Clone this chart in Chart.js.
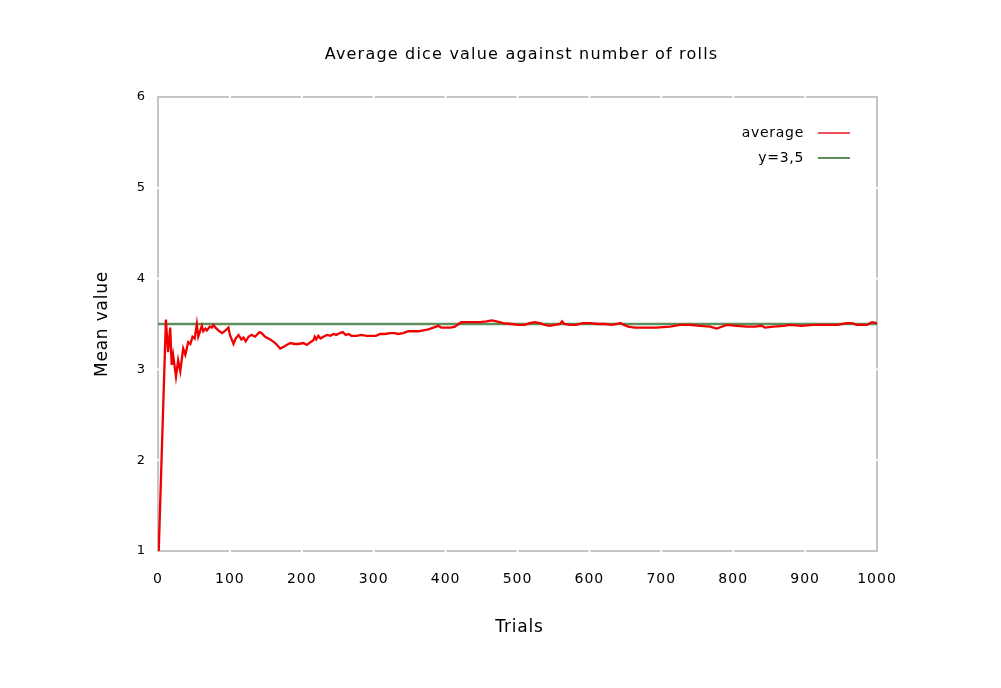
<!DOCTYPE html>
<html><head><meta charset="utf-8">
<script src="https://cdn.jsdelivr.net/npm/chart.js@4/dist/chart.umd.min.js"></script>
<style>html,body{margin:0;padding:0;background:#fff}#wrap{width:1001px;height:688px}</style>
</head><body><div id="wrap"><canvas id="c" width="1001" height="688"></canvas></div>
<script>
// ---- data ----
const chartTitle = "Average dice value against number of rolls";
const xAxisTitle = "Trials";
const yAxisTitle = "Mean value";
const seriesNames = ["average", "y=3,5"];
const trials = [1,11,14,17,19,21,25,28,31,35,38,42,45,48,51,54,56,61,63,66,68,72,75,77,80,84,89,94,98,100,
  105,108,112,116,119,122,126,130,135,141,144,149,156,163,170,175,179,184,190,195,202,207,212,216,218,220,223,226,230,
  235,240,244,248,253,257,261,265,269,276,283,290,297,303,309,316,323,329,334,341,348,355,362,369,376,383,390,394,401,
  407,413,418,422,431,441,448,457,464,471,480,492,501,510,517,524,531,538,545,552,559,562,565,573,581,591,601,612,622,
  631,638,643,648,654,663,679,693,712,726,740,754,768,777,784,791,805,819,830,840,844,856,870,879,895,911,930,945,958,
  965,972,986,993,1000];
const averages = [1.00,3.55,3.19,3.46,3.05,3.16,2.92,3.10,2.98,3.23,3.16,3.30,3.28,3.36,3.34,3.50,3.36,3.48,3.42,3.45,
  3.43,3.47,3.46,3.49,3.46,3.43,3.40,3.43,3.46,3.38,3.28,3.34,3.38,3.33,3.35,3.31,3.36,3.38,3.36,3.41,3.40,3.36,3.33,
  3.29,3.23,3.25,3.27,3.29,3.28,3.28,3.29,3.27,3.30,3.32,3.36,3.33,3.37,3.34,3.36,3.38,3.37,3.39,3.38,3.40,3.41,3.38,
  3.39,3.37,3.37,3.38,3.37,3.37,3.37,3.39,3.39,3.40,3.40,3.39,3.40,3.42,3.42,3.42,3.43,3.44,3.46,3.48,3.46,3.46,3.46,
  3.47,3.50,3.52,3.52,3.52,3.52,3.53,3.54,3.53,3.51,3.50,3.49,3.49,3.51,3.52,3.51,3.49,3.48,3.49,3.50,3.53,3.50,3.49,
  3.49,3.51,3.51,3.50,3.50,3.49,3.50,3.51,3.49,3.47,3.46,3.46,3.46,3.47,3.49,3.49,3.48,3.47,3.45,3.47,3.49,3.48,3.47,
  3.47,3.48,3.46,3.47,3.48,3.49,3.48,3.49,3.49,3.49,3.51,3.51,3.49,3.49,3.52,3.51];
const refTrials = [0, 1000];
const refValues = [3.5, 3.5];
const xTickValues = [0,100,200,300,400,500,600,700,800,900,1000];
const yTickValues = [1,2,3,4,5,6];

const FONT = "'DejaVu Sans', sans-serif";
const RED = "#f00000", GREEN = "#5b8f5b", BORDER = "#c6c6c6";

const decor = {
  id: 'decor',
  beforeDraw(chart) { chart.ctx.letterSpacing = '1px'; },
  beforeDatasetsDraw(chart) {
    const {ctx, chartArea: a, scales: {x, y}} = chart;
    ctx.save();
    ctx.strokeStyle = BORDER; ctx.lineWidth = 2;
    ctx.strokeRect(a.left, a.top, a.right - a.left, a.bottom - a.top);
    ctx.fillStyle = "#ffffff";
    xTickValues.slice(1, -1).forEach(v => {
      const px = x.getPixelForValue(v);
      ctx.fillRect(px - 1, a.top - 1.5, 2, 3);
      ctx.fillRect(px - 1, a.bottom - 1.5, 2, 3);
    });
    yTickValues.slice(1, -1).forEach(v => {
      const py = y.getPixelForValue(v);
      ctx.fillRect(a.left - 1.5, py - 1, 3, 2);
      ctx.fillRect(a.right - 1.5, py - 1, 3, 2);
    });
    ctx.restore();
  },
  afterDraw(chart) {
    const {ctx, chartArea: a} = chart;
    ctx.save();
    ctx.fillStyle = "#000";
    ctx.textBaseline = "middle";
    ctx.textAlign = "center";
    ctx.letterSpacing = '1.2px';
    ctx.font = "16px " + FONT;
    ctx.fillText(chartTitle, (a.left + a.right) / 2 + 4, 55);
    ctx.letterSpacing = '0.8px';
    ctx.font = "17px " + FONT;
    ctx.fillText(xAxisTitle, (a.left + a.right) / 2 + 2, 628);
    ctx.save();
    ctx.translate(103, (a.top + a.bottom) / 2);
    ctx.rotate(-Math.PI / 2);
    ctx.fillText(yAxisTitle, 0, 0);
    ctx.restore();
    // legend
    ctx.font = "14px " + FONT;
    ctx.letterSpacing = '0.7px';
    ctx.textAlign = "right";
    const rows = [[seriesNames[0], "#f0505a", 133], [seriesNames[1], GREEN, 158]];
    rows.forEach(([t, c, yy]) => {
      ctx.fillStyle = "#000";
      ctx.fillText(t, 804, yy);
      ctx.strokeStyle = c; ctx.lineWidth = 2;
      ctx.beginPath(); ctx.moveTo(818, yy); ctx.lineTo(850, yy); ctx.stroke();
    });
    ctx.restore();
  }
};

new Chart(document.getElementById('c'), {
  type: 'line',
  data: {
    datasets: [
      { label: seriesNames[0], data: trials.map((t, i) => ({x: t, y: averages[i]})),
        borderColor: RED, borderWidth: 2.3, pointRadius: 0, tension: 0, fill: false },
      { label: seriesNames[1], data: refTrials.map((t, i) => ({x: t, y: refValues[i]})),
        borderColor: GREEN, borderWidth: 2.5, pointRadius: 0, tension: 0, fill: false }
    ]
  },
  options: {
    responsive: false, animation: false, devicePixelRatio: 1,
    layout: { padding: { left: 0, top: 97, right: 124, bottom: 0 } },
    plugins: { legend: { display: false }, title: { display: false }, tooltip: { enabled: false } },
    scales: {
      x: { type: 'linear', min: 0, max: 1000,
        afterBuildTicks: s => { s.ticks = xTickValues.map(v => ({value: v})); },
        afterFit: s => { s.height = 137; },
        grid: { display: false, drawTicks: false }, border: { display: false },
        ticks: { color: '#000', font: { family: FONT, size: 14 }, padding: 20, maxRotation: 0, autoSkip: false,
          callback: v => String(v) } },
      y: { type: 'linear', min: 1, max: 6,
        afterBuildTicks: s => { s.ticks = yTickValues.map(v => ({value: v})); },
        afterFit: s => { s.width = 158; },
        grid: { display: false, drawTicks: false }, border: { display: false },
        ticks: { color: '#000', font: { family: FONT, size: 13 }, padding: 12, callback: v => String(v) } }
    }
  },
  plugins: [decor]
});
</script></body></html>
